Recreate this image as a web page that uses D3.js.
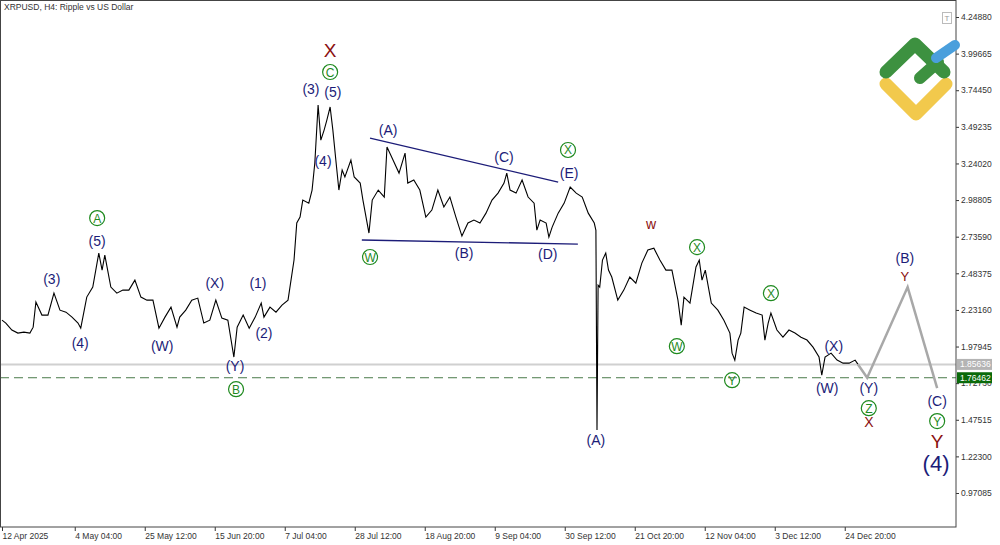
<!DOCTYPE html>
<html>
<head>
<meta charset="UTF-8"/>
<script src="https://d3js.org/d3.v7.min.js"></script>
<style>
  body { margin: 0; background: #fff; }
  svg { display: block; font-family: "Liberation Sans", Arial, sans-serif; }
  .axis text { font-size: 8.5px; fill: #333; }
  .wave { font-size: 14px; text-anchor: middle; dominant-baseline: central; }
</style>
</head>
<body>
<svg width="1000" height="545"></svg>
<script>
// H4 bar index from 12 Apr 2025 00:00 and close price
const bars = [0,7,18,29,40,51,57,62,73,84,95,106,117,128,139,144,155,166,177,183,188,199,210,221,232,243,254,265,276,287,298,309,320,325,336,347,358,369,380,391,402,413,424,430,441,452,463,474,479,490,501,512,523,534,539,545,550,561,567,572,578,583,589,594,600,605,611,616,622,627,638,644,655,660,671,677,688,699,704,715,726,737,742,753,764,775,786,797,808,819,830,841,852,863,874,885,896,907,918,923,929,940,951,962,973,978,984,995,1000,1006,1017,1028,1039,1050,1061,1072,1083,1086,1088,1090,1093,1098,1104,1109,1115,1126,1137,1148,1159,1170,1181,1192,1203,1214,1225,1236,1242,1247,1258,1269,1275,1280,1286,1297,1309,1320,1331,1335,1340,1346,1351,1357,1368,1379,1390,1395,1401,1406,1417,1428,1439,1450,1461,1472,1483,1494,1499,1505,1516,1527,1538,1549,1560,1565];
const prices = [2.161,2.141,2.093,2.072,2.079,2.072,2.113,2.286,2.196,2.196,2.347,2.230,2.216,2.182,2.141,2.106,2.320,2.389,2.623,2.506,2.609,2.389,2.347,2.368,2.368,2.437,2.320,2.299,2.299,2.106,2.182,2.251,2.113,2.182,2.230,2.299,2.313,2.141,2.161,2.299,2.175,2.161,1.907,2.113,2.196,2.106,2.182,2.279,2.182,2.251,2.216,2.265,2.299,2.575,2.830,2.871,2.988,2.967,3.057,3.243,3.643,3.401,3.470,3.539,3.629,3.470,3.243,3.057,3.195,3.147,3.264,3.147,3.105,2.988,2.761,2.988,3.057,3.009,3.353,3.264,3.174,3.312,3.105,3.126,3.057,2.871,2.919,3.057,2.940,3.009,2.871,2.740,2.830,2.850,2.830,2.898,2.988,3.036,3.105,3.174,3.057,3.036,3.126,3.009,2.967,2.781,2.850,2.830,2.733,2.802,2.898,2.967,3.078,3.036,3.009,2.898,2.830,2.779,1.404,2.402,2.389,2.575,2.623,2.506,2.458,2.299,2.368,2.458,2.416,2.554,2.644,2.657,2.575,2.506,2.506,2.299,2.127,2.320,2.279,2.527,2.575,2.437,2.506,2.279,2.230,2.161,2.072,1.934,1.886,2.024,2.072,2.251,2.230,2.210,2.196,2.024,2.141,2.210,2.093,2.044,2.093,2.072,2.044,2.024,1.975,1.907,1.782,1.907,1.934,1.886,1.865,1.865,1.886,1.858];

// forecast path
const projBars = [1565,1582,1656,1710];
const projPrices = [1.858,1.765,2.389,1.693];

// triangle boundaries
const triTop = [[673,3.415],[1017,3.112]];
const triBottom = [[658,2.713],[1053,2.685]];

const yTicks = [4.24880,3.99665,3.74450,3.49235,3.24020,2.98805,2.73590,2.48375,2.23160,1.97945,1.72730,1.47515,1.22300,0.97085];
const xTickDates = ["2025-04-12T00:00","2025-05-04T04:00","2025-05-25T12:00","2025-06-15T20:00","2025-07-07T04:00","2025-07-28T12:00","2025-08-18T20:00","2025-09-09T04:00","2025-09-30T12:00","2025-10-21T20:00","2025-11-12T04:00","2025-12-03T12:00","2025-12-24T20:00"];
const xTickLabels = ["12 Apr 2025","4 May 04:00","25 May 12:00","15 Jun 20:00","7 Jul 04:00","28 Jul 12:00","18 Aug 20:00","9 Sep 04:00","30 Sep 12:00","21 Oct 20:00","12 Nov 04:00","3 Dec 12:00","24 Dec 20:00"];

const lastPrice = 1.85636;
const levelPrice = 1.76462;

// wave labels: text, bar, price, kind
const waveLabels = [
  ["(3)",91,2.444,"b"],["(4)",143,2.003,"b"],["(5)",174,2.706,"b"],["(W)",293,1.982,"b"],
  ["(X)",389,2.416,"b"],["(Y)",426,1.844,"b"],["(1)",468,2.416,"b"],["(2)",479,2.072,"b"],
  ["(3)",565,3.753,"b"],["(5)",605,3.732,"b"],["(4)",587,3.257,"b"],["(A)",706,3.470,"b"],
  ["(B)",845,2.623,"b"],["(C)",918,3.284,"b"],["(D)",998,2.616,"b"],["(E)",1037,3.174,"b"],
  ["(A)",1086,1.335,"b"],["(X)",1521,1.982,"b"],["(W)",1509,1.693,"b"],["(Y)",1585,1.693,"b"],
  ["(B)",1651,2.589,"b"],["(C)",1710,1.603,"b"],["(4)",1708,1.176,"big"],
  ["A",174,2.864,"g"],["B",428,1.686,"g"],["C",600,3.870,"g"],["W",673,2.596,"g"],
  ["X",1035,3.333,"g"],["W",1234,1.982,"g"],["X",1271,2.664,"g"],["Y",1335,1.748,"g"],
  ["X",1406,2.347,"g"],["Z",1585,1.555,"g"],["Y",1710,1.466,"g"],
  ["X",600,4.021,"rbig"],["w",1187,2.823,"r"],["Y",1651,2.465,"rs"],["X",1585,1.459,"r"],["Y",1710,1.328,"rbig"]
];

const svg = d3.select("svg");
const plotRight = 956, plotBottom = 527;
const start = new Date("2025-04-12T00:00");
const hour = 3600 * 1000;
const barDate = b => new Date(start.getTime() + b * 4 * hour);

const x = d3.scaleTime()
  .domain([start, barDate(1728)])
  .range([2, 2 + 1728 * 70 / 128]);
const y = d3.scaleLinear().domain([0.97085, 4.24880]).range([493, 17]);

const clip = svg.append("defs").append("clipPath").attr("id", "plot")
  .append("rect").attr("x", 1).attr("y", 1).attr("width", plotRight - 1).attr("height", plotBottom - 1);

// y axis
svg.append("g").attr("class", "axis")
  .attr("transform", `translate(${plotRight},0)`)
  .call(d3.axisRight(y).tickValues(yTicks).tickSize(3).tickPadding(2).tickFormat(d3.format(".5f")))
  .call(g => g.select(".domain").remove())
  .call(g => g.selectAll("line").attr("stroke", "#333"));

// x axis
svg.append("g").attr("class", "axis")
  .attr("transform", `translate(0,${plotBottom})`)
  .call(d3.axisBottom(x).tickValues(xTickDates.map(d => new Date(d))).tickSize(4).tickPadding(2)
    .tickFormat((d, i) => xTickLabels[i]))
  .call(g => g.select(".domain").remove())
  .call(g => g.selectAll("line").attr("stroke", "#333"))
  .call(g => g.selectAll("text").attr("text-anchor", "start").attr("dx", "0"));

const plot = svg.append("g").attr("clip-path", "url(#plot)");

// level lines
plot.append("line").attr("x1", 0).attr("x2", plotRight)
  .attr("y1", y(lastPrice)).attr("y2", y(lastPrice))
  .attr("stroke", "#d0d0d0").attr("stroke-width", 2);
plot.append("line").attr("x1", 0).attr("x2", plotRight)
  .attr("y1", y(levelPrice)).attr("y2", y(levelPrice))
  .attr("stroke", "#4a7a4a").attr("stroke-width", 1).attr("stroke-dasharray", "9,5");

// triangle
[triTop, triBottom].forEach(t => {
  plot.append("line")
    .attr("x1", x(barDate(t[0][0]))).attr("y1", y(t[0][1]))
    .attr("x2", x(barDate(t[1][0]))).attr("y2", y(t[1][1]))
    .attr("stroke", "#1c1c78").attr("stroke-width", 1.3);
});

// price
const line = d3.line().x(d => x(barDate(d[0]))).y(d => y(d[1]));
plot.append("path").datum(bars.map((b, i) => [b, prices[i]]))
  .attr("d", line).attr("fill", "none").attr("stroke", "#000").attr("stroke-width", 1.1);

// forecast
plot.append("path").datum(projBars.map((b, i) => [b, projPrices[i]]))
  .attr("d", line).attr("fill", "none").attr("stroke", "#a8a8a8").attr("stroke-width", 2.5);

// wave labels
waveLabels.forEach(([t, b, p, k]) => {
  const cx = x(barDate(b)), cy = y(p);
  if (k === "g") {
    plot.append("circle").attr("cx", cx).attr("cy", cy).attr("r", 7.5)
      .attr("fill", "none").attr("stroke", "#1f8a1f").attr("stroke-width", 1.2);
    plot.append("text").attr("class", "wave").attr("x", cx).attr("y", cy + 0.5)
      .style("font-size", "12px").attr("fill", "#1f8a1f").text(t);
  } else {
    const col = k[0] === "r" ? "#8b1010" : "#1c1c78";
    const size = k === "big" ? 22 : k === "rbig" ? 19 : k === "rs" ? 13 : 14;
    plot.append("text").attr("class", "wave").attr("x", cx).attr("y", cy)
      .style("font-size", size + "px").attr("fill", col).text(t);
  }
});

// frame
svg.append("rect").attr("x", 0.5).attr("y", 0.5).attr("width", plotRight - 0.5).attr("height", plotBottom - 0.5)
  .attr("fill", "none").attr("stroke", "#444");

// price boxes
[[lastPrice, "#b4b4b4"], [levelPrice, "#0a6a0a"]].forEach(([p, c]) => {
  svg.append("rect").attr("x", plotRight + 1).attr("y", y(p) - 5.5).attr("width", 35).attr("height", 11).attr("fill", c);
  svg.append("text").attr("x", plotRight + 4).attr("y", y(p) + 3).attr("fill", "#fff")
    .style("font-size", "8.5px").text(p.toFixed(5));
});

// title
svg.append("text").attr("x", 4).attr("y", 10).style("font-size", "8.5px").attr("fill", "#333")
  .text("XRPUSD, H4:  Ripple vs US Dollar");

// T box
svg.append("rect").attr("x", 942.5).attr("y", 12.5).attr("width", 9).attr("height", 11)
  .attr("fill", "#fff").attr("stroke", "#bbb");
svg.append("text").attr("x", 947).attr("y", 21).attr("text-anchor", "middle")
  .style("font-size", "8px").attr("fill", "#999").text("T");

// logo
const logo = svg.append("g").attr("fill", "none").attr("stroke-linecap", "round").attr("stroke-linejoin", "round");
logo.append("path").attr("d", "M886,84 L916,114 L946,84").attr("stroke", "#f2c94c").attr("stroke-width", 13);
logo.append("path").attr("d", "M886,72 L915,44 L944,72").attr("stroke", "#3d9140").attr("stroke-width", 13);
logo.append("path").attr("d", "M920,78 L938,62").attr("stroke", "#3d9140").attr("stroke-width", 12);
logo.append("path").attr("d", "M936,58 L955,45").attr("stroke", "#4a9fdc").attr("stroke-width", 10);
</script>
</body>
</html>
